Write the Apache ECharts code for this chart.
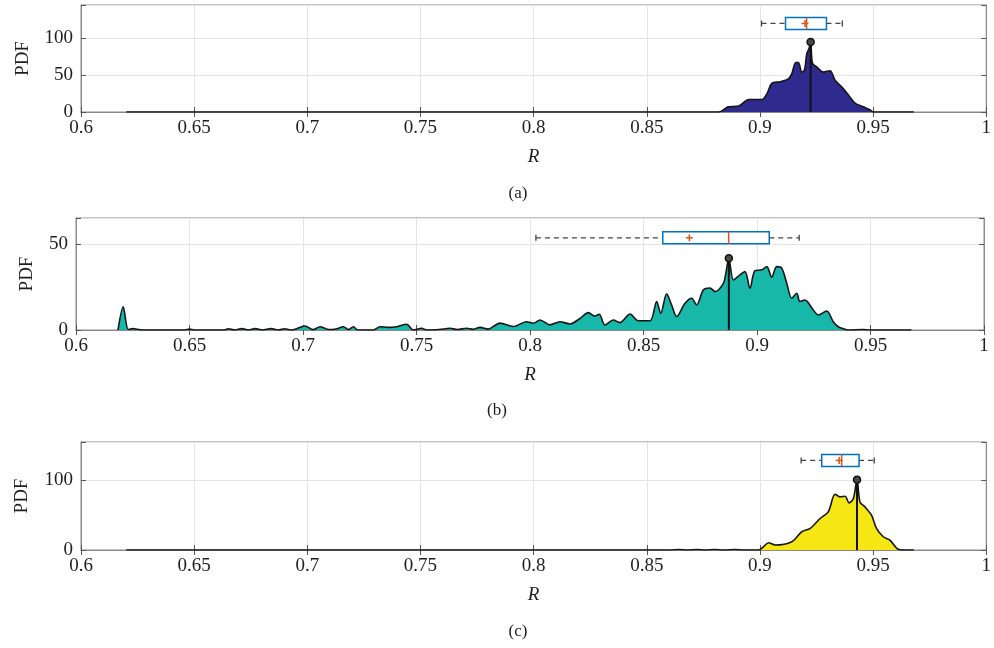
<!DOCTYPE html>
<html>
<head>
<meta charset="utf-8">
<script src="https://cdn.jsdelivr.net/npm/echarts@6/dist/echarts.min.js"></script>
<style>
  html, body { margin: 0; padding: 0; background: #ffffff; }
  #chart { width: 994px; height: 648px; }
</style>
</head>
<body>
<div id="chart"></div>
<script>
// ---- Tick labels ----
const xTicks = [0.6, 0.65, 0.7, 0.75, 0.8, 0.85, 0.9, 0.95, 1];
const yTicksA = [0, 50, 100];
const yTicksB = [0, 50];
const yTicksC = [0, 100];
const panelLabels = ['(a)', '(b)', '(c)'];

// ---- Kernel density estimates of R, [R, PDF] ----
const densityA = [
  [0.62, 0], [0.86, 0], [0.8818, 0], [0.886, 7], [0.8906, 8], [0.895, 17], [0.9009, 17],
  [0.9031, 25], [0.9053, 39], [0.9089, 41], [0.9126, 45], [0.9141, 52], [0.9158, 67],
  [0.917, 67], [0.9185, 54], [0.9197, 57], [0.9207, 79], [0.9217, 86], [0.9224, 95],
  [0.9232, 66], [0.9251, 61], [0.928, 54], [0.931, 56], [0.9332, 43], [0.9361, 34],
  [0.9391, 23], [0.942, 12], [0.9457, 7], [0.9486, 3], [0.9501, 0], [0.968, 0]
];
const densityB = [
  [0.6185, 0], [0.6208, 13.5], [0.623, 0.3], [0.625, 0.8], [0.627, 0.4], [0.629, 0],
  [0.648, 0], [0.65, 0.5], [0.652, 0], [0.665, 0], [0.667, 0.7], [0.670, 0], [0.673, 0.8],
  [0.676, 0], [0.679, 0.8], [0.682, 0], [0.686, 0.8], [0.689, 0], [0.692, 0.7], [0.695, 0],
  [0.7009, 2.3], [0.7045, 0.2], [0.7075, 1.9], [0.7111, 0.3], [0.7145, 0.6], [0.7178, 1.9],
  [0.72, 0.3], [0.7222, 1.9], [0.724, 0], [0.731, 0], [0.7339, 1.9], [0.7376, 1.5],
  [0.7413, 1.9], [0.7457, 3.3], [0.7486, 0], [0.7523, 1], [0.7545, 0], [0.76, 0.3],
  [0.7648, 1], [0.768, 0.3], [0.7721, 1], [0.775, 0.4], [0.778, 1.5], [0.7816, 0.5],
  [0.7838, 2], [0.7868, 4], [0.7926, 2], [0.7985, 4.8], [0.8015, 3.9], [0.8044, 5.8],
  [0.8088, 3], [0.8132, 4.8], [0.8176, 3.5], [0.822, 6.7], [0.8257, 10.1], [0.8286, 8.1],
  [0.8305, 9.1], [0.833, 2.9], [0.8367, 5.8], [0.8396, 4.3], [0.8441, 9.3], [0.8477, 5.4],
  [0.8529, 5.4], [0.8558, 16.5], [0.8576, 9.7], [0.8602, 21], [0.8624, 14.5], [0.8646, 7.8],
  [0.8683, 15.5], [0.8712, 18.4], [0.8734, 14.5], [0.8764, 23.3], [0.8793, 24.4],
  [0.8815, 22.3], [0.8852, 27.1], [0.8863, 33], [0.8876, 41.7], [0.8896, 29], [0.8925, 32],
  [0.8947, 33.9], [0.8969, 24.2], [0.8991, 34.5], [0.9021, 34.9], [0.9043, 36.8],
  [0.9065, 30.7], [0.9087, 36.8], [0.9109, 35.9], [0.9131, 27.1], [0.9153, 18.4],
  [0.9175, 21.3], [0.9189, 16.5], [0.9211, 17.4], [0.9248, 11.6], [0.927, 8.7], [0.9307, 11],
  [0.9336, 4.8], [0.9358, 1.9], [0.9388, 0.4], [0.94, 0], [0.9467, 0.3], [0.95, 0], [0.968, 0]
];
const densityC = [
  [0.62, 0], [0.86, 0], [0.864, 0.8], [0.868, 0], [0.872, 0.7], [0.876, 0], [0.88, 0.8],
  [0.884, 0], [0.889, 0.7], [0.893, 0], [0.8994, 0], [0.9016, 4.8], [0.9038, 10.5],
  [0.9067, 7.1], [0.9141, 11.9], [0.9185, 26.2], [0.9222, 31], [0.9266, 45.2], [0.9302, 54.8],
  [0.9332, 80], [0.9354, 76.2], [0.9376, 77.1], [0.9394, 67.6], [0.9413, 73.8], [0.9429, 101],
  [0.9442, 69], [0.9464, 61.9], [0.9493, 50], [0.9515, 31], [0.9545, 19], [0.9574, 14.3],
  [0.9611, 1], [0.964, 0], [0.968, 0]
];

// ---- Box plot statistics: [lower whisker, Q1, median, Q3, upper whisker, mean] ----
const boxA = [0.9007, 0.9113, 0.9206, 0.9294, 0.9364, 0.9199];
const boxB = [0.8026, 0.8585, 0.8875, 0.9054, 0.9186, 0.8702];
const boxC = [0.9182, 0.9273, 0.9361, 0.9438, 0.9505, 0.935];

// ---- Density peaks: [R, PDF] ----
const peakA = [0.9224, 95];
const peakB = [0.8876, 41.7];
const peakC = [0.9429, 101];

const FONT = "'Liberation Serif', 'DejaVu Serif', serif";
const AXIS_GRAY = '#8a8a8a';
const GRID_GRAY = '#e4e4e4';
const TEXT = '#1e1e1e';

const panels = [
  { grid: { left: 81, right: 6, top: 5, height: 107 }, yMax: 145, yStep: 50, yTicks: yTicksA,
    nameGap: 48, density: densityA, fill: '#2f2a8e', box: boxA, boxRow: 120, peak: peakA,
    label: { x: 518, y: 194 } },
  { grid: { left: 76, right: 10, top: 218, height: 112 }, yMax: 65, yStep: 50, yTicks: yTicksB,
    nameGap: 39, density: densityB, fill: '#17b7aa', box: boxB, boxRow: 53.5, peak: peakB,
    label: { x: 497, y: 411 } },
  { grid: { left: 81, right: 6, top: 442, height: 108 }, yMax: 155, yStep: 100, yTicks: yTicksC,
    nameGap: 49, density: densityC, fill: '#f6e614', box: boxC, boxRow: 128.6, peak: peakC,
    label: { x: 518, y: 632 } }
];

function boxRenderer(rowY) {
  return function (params, api) {
    const v = [0, 1, 2, 3, 4, 5].map(i => api.value(i));
    const pt = x => api.coord([x, rowY]);
    const y = pt(v[2])[1];
    const xLo = pt(v[0])[0], xQ1 = pt(v[1])[0], xMed = pt(v[2])[0];
    const xQ3 = pt(v[3])[0], xHi = pt(v[4])[0], xMean = pt(v[5])[0];
    const half = 6, cap = 3, plus = 3.5;
    const dash = { stroke: '#444444', lineWidth: 1.3, lineDash: [5, 4] };
    const solid = { stroke: '#444444', lineWidth: 1.3 };
    const red = { stroke: '#d95319', lineWidth: 1.5 };
    return {
      type: 'group',
      children: [
        { type: 'line', shape: { x1: xLo, y1: y, x2: xQ1, y2: y }, style: dash },
        { type: 'line', shape: { x1: xQ3, y1: y, x2: xHi, y2: y }, style: dash },
        { type: 'line', shape: { x1: xLo, y1: y - cap, x2: xLo, y2: y + cap }, style: solid },
        { type: 'line', shape: { x1: xHi, y1: y - cap, x2: xHi, y2: y + cap }, style: solid },
        { type: 'rect', shape: { x: xQ1, y: y - half, width: xQ3 - xQ1, height: 2 * half },
          style: { fill: '#ffffff', stroke: '#0072bd', lineWidth: 1.5 } },
        { type: 'line', shape: { x1: xMed, y1: y - half, x2: xMed, y2: y + half }, style: red },
        { type: 'line', shape: { x1: xMean - plus, y1: y, x2: xMean + plus, y2: y }, style: red },
        { type: 'line', shape: { x1: xMean, y1: y - plus, x2: xMean, y2: y + plus }, style: red }
      ]
    };
  };
}

function peakRenderer(params, api) {
  const base = api.coord([api.value(0), 0]);
  const top = api.coord([api.value(0), api.value(1)]);
  return {
    type: 'group',
    children: [
      { type: 'line', shape: { x1: base[0], y1: base[1], x2: top[0], y2: top[1] },
        style: { stroke: '#111111', lineWidth: 2 } },
      { type: 'circle', shape: { cx: top[0], cy: top[1], r: 3.5 },
        style: { fill: '#4a4a4a', stroke: '#111111', lineWidth: 1.5 } }
    ]
  };
}

const grids = [], xAxes = [], yAxes = [], series = [], graphics = [];

panels.forEach((p, i) => {
  grids.push(Object.assign({ show: true, borderColor: AXIS_GRAY, borderWidth: 1,
    backgroundColor: '#ffffff' }, p.grid));

  // bottom x axis with labels and name
  xAxes.push({
    type: 'value', gridIndex: i, min: 0.6, max: 1, interval: 0.05, position: 'bottom',
    name: 'R', nameLocation: 'middle', nameGap: 35,
    nameTextStyle: { fontFamily: FONT, fontStyle: 'italic', fontSize: 19, color: TEXT },
    axisLine: { show: true, lineStyle: { color: AXIS_GRAY, width: 1 } },
    axisTick: { show: true, inside: true, length: 5, lineStyle: { color: '#555' } },
    axisLabel: { fontFamily: FONT, fontSize: 19, color: TEXT, margin: 7,
      formatter: val => {
        const t = xTicks.find(k => Math.abs(k - val) < 1e-6);
        return t === undefined ? '' : String(t);
      } },
    splitLine: { show: true, lineStyle: { color: GRID_GRAY, width: 1 } }
  });
  // top x axis: ticks only
  xAxes.push({
    type: 'value', gridIndex: i, min: 0.6, max: 1, interval: 0.05, position: 'top',
    axisLine: { show: true, lineStyle: { color: AXIS_GRAY, width: 1 } },
    axisTick: { show: true, inside: true, length: 5, lineStyle: { color: '#555' } },
    axisLabel: { show: false }, splitLine: { show: false }
  });

  // left y axis with labels and name
  yAxes.push({
    type: 'value', gridIndex: i, min: 0, max: p.yMax, interval: p.yStep, position: 'left',
    name: 'PDF', nameLocation: 'middle', nameGap: p.nameGap, nameRotate: 90,
    nameTextStyle: { fontFamily: FONT, fontSize: 19, color: TEXT },
    axisLine: { show: true, lineStyle: { color: AXIS_GRAY, width: 1 } },
    axisTick: { show: true, inside: true, length: 5, lineStyle: { color: '#555' } },
    axisLabel: { fontFamily: FONT, fontSize: 19, color: TEXT, margin: 8,
      formatter: val => (p.yTicks.indexOf(val) >= 0 ? String(val) : '') },
    splitLine: { show: true, lineStyle: { color: GRID_GRAY, width: 1 } }
  });
  // right y axis: ticks only
  yAxes.push({
    type: 'value', gridIndex: i, min: 0, max: p.yMax, interval: p.yStep, position: 'right',
    axisLine: { show: true, lineStyle: { color: AXIS_GRAY, width: 1 } },
    axisTick: { show: true, inside: true, length: 5, lineStyle: { color: '#555' } },
    axisLabel: { show: false }, splitLine: { show: false }
  });

  const xi = 2 * i, yi = 2 * i;

  series.push({
    type: 'line', xAxisIndex: xi, yAxisIndex: yi, data: p.density,
    smooth: 0.3, showSymbol: false, silent: true,
    lineStyle: { color: '#151515', width: 1.6 },
    areaStyle: { color: p.fill, opacity: 1 },
    z: 3
  });
  series.push({
    type: 'custom', xAxisIndex: xi, yAxisIndex: yi, data: [p.peak],
    renderItem: peakRenderer, encode: { x: 0, y: 1 }, silent: true, z: 4
  });
  series.push({
    type: 'custom', xAxisIndex: xi, yAxisIndex: yi, data: [p.box],
    renderItem: boxRenderer(p.boxRow), encode: { x: [0, 1, 2, 3, 4, 5] },
    silent: true, z: 5
  });

  graphics.push({
    type: 'text', x: p.label.x, y: p.label.y,
    style: { text: panelLabels[i], font: '17px ' + FONT, fill: TEXT,
      align: 'center', verticalAlign: 'middle' }
  });
});

const chart = echarts.init(document.getElementById('chart'), null, { renderer: 'canvas' });
chart.setOption({
  animation: false,
  backgroundColor: '#ffffff',
  grid: grids,
  xAxis: xAxes,
  yAxis: yAxes,
  series: series,
  graphic: graphics
});
</script>
</body>
</html>
